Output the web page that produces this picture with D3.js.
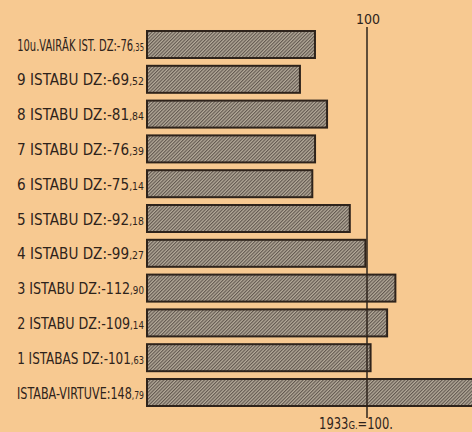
<!DOCTYPE html>
<html><head><meta charset="utf-8">
<script src="https://cdn.jsdelivr.net/npm/d3@7"></script>
<style>html,body{margin:0;padding:0;background:#f7c991;overflow:hidden} svg{display:block}</style>
</head><body>
<script>
// ---- data ----
const categories = ["10u.VAIRĀK IST.", "9 ISTABU", "8 ISTABU", "7 ISTABU", "6 ISTABU", "5 ISTABU", "4 ISTABU", "3 ISTABU", "2 ISTABU", "1 ISTABAS", "ISTABA-VIRTUVE"];
const separators = [" DZ:-", " DZ:-", " DZ:-", " DZ:-", " DZ:-", " DZ:-", " DZ:-", " DZ:-", " DZ:-", " DZ:-", ":"];
const values = [76.35, 69.52, 81.84, 76.39, 75.14, 92.18, 99.27, 112.90, 109.14, 101.63, 148.79];
const referenceValue = 100;
const referenceTick = "100";
const baseYear = "1933";
const baseYearSuffix = "G.";
const baseYearValue = "=100.";

// ---- layout ----
const W = 472, H = 432;
const ink = "#2e231b";
const font = "'DejaVu Sans Condensed', 'Liberation Sans Narrow', sans-serif";
const svg = d3.select("body").append("svg").attr("width", W).attr("height", H);
svg.append("rect").attr("width", W).attr("height", H).attr("fill", "#f7c991");

const defs = svg.append("defs");
const pat = defs.append("pattern").attr("id", "hatch").attr("width", 2.4).attr("height", 2.4)
  .attr("patternUnits", "userSpaceOnUse").attr("patternTransform", "rotate(45)");
pat.append("rect").attr("width", 2.4).attr("height", 2.4).attr("fill", "#b4aa99");
pat.append("rect").attr("width", 1.1).attr("height", 2.4).attr("fill", "#625850");

const x = d3.scaleLinear().domain([0, 100]).range([147, 367]);
const y = d3.scaleBand().domain(categories).range([27.1, 409.9]).paddingInner(0.224).paddingOuter(0.112);

const data = categories.map((c, i) => ({c, v: values[i], sep: separators[i]}));

// bars
svg.append("g").selectAll("rect").data(data).join("rect")
  .attr("x", x(0)).attr("y", d => y(d.c))
  .attr("width", d => x(d.v) - x(0)).attr("height", y.bandwidth())
  .attr("fill", "url(#hatch)").attr("stroke", ink).attr("stroke-width", 2);

// reference line
svg.append("line").attr("x1", x(referenceValue)).attr("x2", x(referenceValue))
  .attr("y1", 27).attr("y2", 418).attr("stroke", ink).attr("stroke-width", 1.5);

svg.append("text").attr("x", x(referenceValue) + 1).attr("y", 24)
  .attr("text-anchor", "middle").attr("fill", ink)
  .style("font-family", font).style("font-size", "14px").text(referenceTick);

// helper: squeeze a text horizontally to a target width, right-anchored at (ax, ay)
function squeeze(t, ax, ay, target, anchor) {
  const w = t.node().getComputedTextLength();
  const k = Math.min(1, target / w);
  t.attr("x", 0).attr("y", 0).attr("text-anchor", anchor)
   .attr("transform", `translate(${ax},${ay}) scale(${k},1)`);
}

// labels
svg.append("g").selectAll("text").data(data).join("text")
  .attr("fill", ink).style("font-family", font).style("font-size", "16px")
  .each(function(d) {
    const s = d.v.toFixed(2).split(".");
    const t = d3.select(this);
    t.append("tspan").text(d.c + d.sep + s[0]);
    t.append("tspan").style("font-size", "11px").text("," + s[1]);
    squeeze(t, x(0) - 3, y(d.c) + y.bandwidth() / 2 + 6, 127, "end");
  });

// base note
const note = svg.append("text").attr("fill", ink)
  .style("font-family", font).style("font-size", "15px");
note.append("tspan").text(baseYear);
note.append("tspan").style("font-size", "11px").text(baseYearSuffix);
note.append("tspan").text(baseYearValue);
squeeze(note, 356, 429, 74, "middle");
</script>
</body></html>
